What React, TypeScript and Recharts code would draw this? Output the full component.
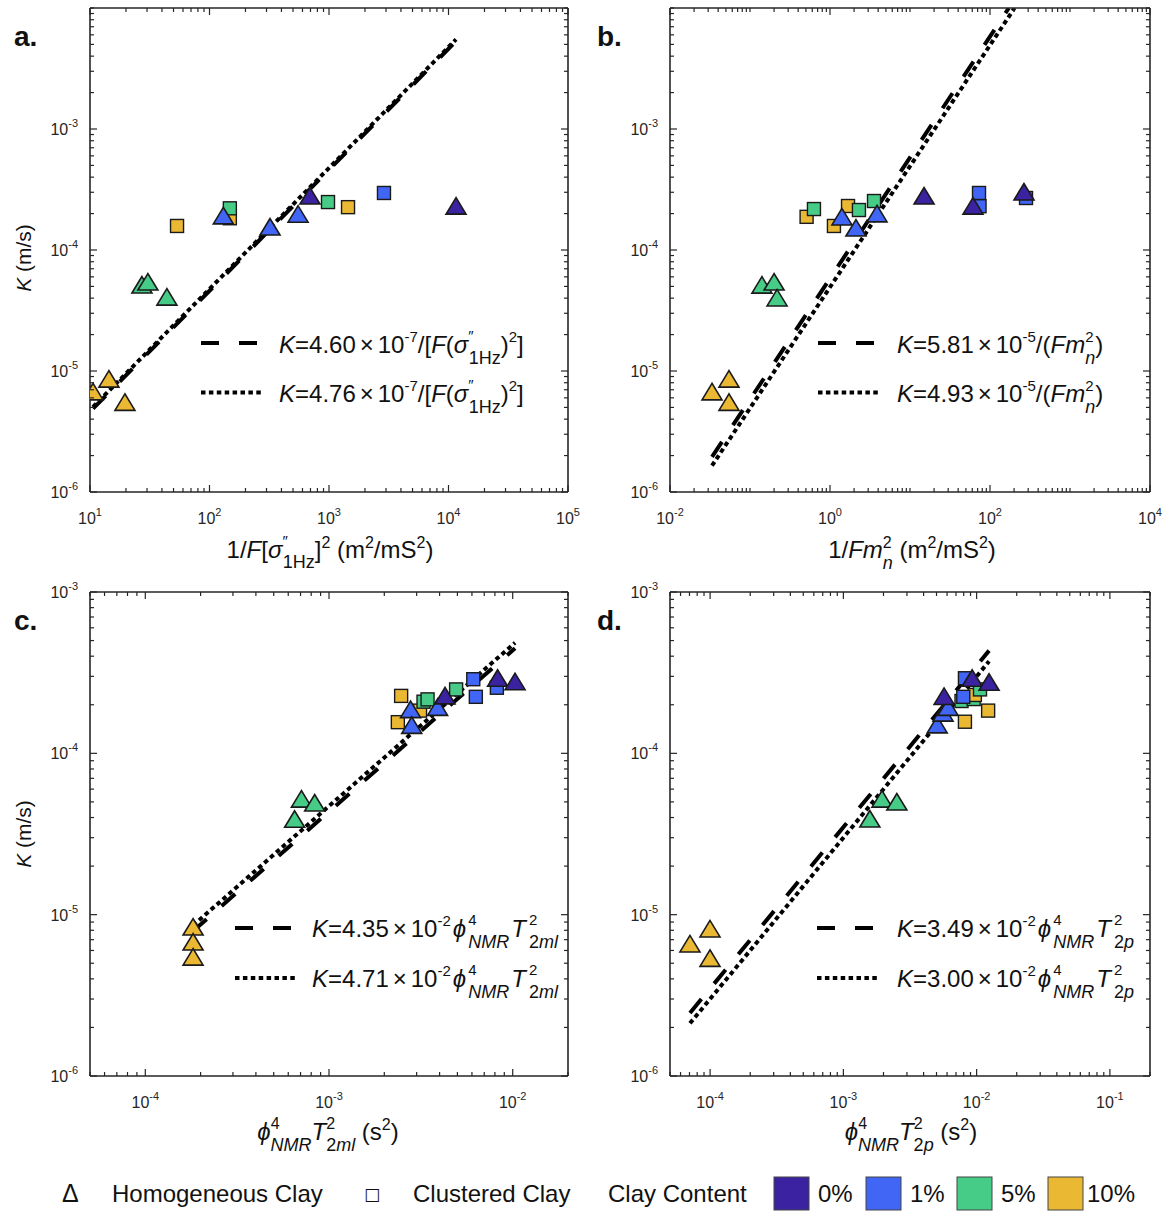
import React from 'react';
import { ComposedChart, Scatter, Line, XAxis, YAxis } from 'recharts';

const FONT = '"Liberation Sans", Arial, Helvetica, sans-serif';
const AXIS = '#262626';

const CLAY_COLORS: Record<number, string> = {
  0: '#3a22a0',
  1: '#4165f5',
  5: '#47cc88',
  10: '#eab833',
};

// ---------- Panel a : 1/F[sigma''_1Hz]^2 ----------
const pointsA = [
  { x: 10.6, k: 6.6e-6, clay: 10, type: 'H' },
  { x: 14.4, k: 8.4e-6, clay: 10, type: 'H' },
  { x: 19.6, k: 5.4e-6, clay: 10, type: 'H' },
  { x: 27.2, k: 5.04e-5, clay: 5, type: 'H' },
  { x: 30.5, k: 5.33e-5, clay: 5, type: 'H' },
  { x: 44, k: 4.0e-5, clay: 5, type: 'H' },
  { x: 53.5, k: 1.58e-4, clay: 10, type: 'C' },
  { x: 148, k: 1.83e-4, clay: 10, type: 'C' },
  { x: 148, k: 2.21e-4, clay: 5, type: 'C' },
  { x: 130.6, k: 1.88e-4, clay: 1, type: 'H' },
  { x: 321, k: 1.52e-4, clay: 1, type: 'H' },
  { x: 551, k: 1.94e-4, clay: 1, type: 'H' },
  { x: 693, k: 2.74e-4, clay: 0, type: 'H' },
  { x: 981, k: 2.49e-4, clay: 5, type: 'C' },
  { x: 1443, k: 2.26e-4, clay: 10, type: 'C' },
  { x: 2884, k: 2.96e-4, clay: 1, type: 'C' },
  { x: 11560, k: 2.26e-4, clay: 0, type: 'H' },
];
const fitDashedA = [
  { x: 10.6, k: 4.88e-6 },
  { x: 11560, k: 5.32e-3 },
];
const fitDottedA = [
  { x: 10.6, k: 5.05e-6 },
  { x: 11560, k: 5.5e-3 },
];
const xDomainA: [number, number] = [1e1, 1e5];
const xMajorsA = [1e1, 1e2, 1e3, 1e4, 1e5];

// ---------- Panel b : 1/Fm_n^2 ----------
const pointsB = [
  { x: 0.0335, k: 6.6e-6, clay: 10, type: 'H' },
  { x: 0.0546, k: 8.4e-6, clay: 10, type: 'H' },
  { x: 0.0546, k: 5.4e-6, clay: 10, type: 'H' },
  { x: 0.141, k: 5.03e-5, clay: 5, type: 'H' },
  { x: 0.2, k: 5.33e-5, clay: 5, type: 'H' },
  { x: 0.218, k: 3.94e-5, clay: 5, type: 'H' },
  { x: 0.51, k: 1.88e-4, clay: 10, type: 'C' },
  { x: 0.63, k: 2.18e-4, clay: 5, type: 'C' },
  { x: 1.12, k: 1.58e-4, clay: 10, type: 'C' },
  { x: 1.68, k: 2.31e-4, clay: 10, type: 'C' },
  { x: 2.3, k: 2.14e-4, clay: 5, type: 'C' },
  { x: 3.55, k: 2.54e-4, clay: 5, type: 'C' },
  { x: 1.41, k: 1.84e-4, clay: 1, type: 'H' },
  { x: 2.11, k: 1.49e-4, clay: 1, type: 'H' },
  { x: 3.87, k: 1.95e-4, clay: 1, type: 'H' },
  { x: 15, k: 2.74e-4, clay: 0, type: 'H' },
  { x: 72.9, k: 2.96e-4, clay: 1, type: 'C' },
  { x: 74, k: 2.3e-4, clay: 1, type: 'C' },
  { x: 61.3, k: 2.26e-4, clay: 0, type: 'H' },
  { x: 282, k: 2.69e-4, clay: 1, type: 'C' },
  { x: 266, k: 2.96e-4, clay: 0, type: 'H' },
];
const fitDashedB = [
  { x: 0.0335, k: 1.95e-6 },
  { x: 172.1, k: 1.0e-2 },
];
const fitDottedB = [
  { x: 0.0335, k: 1.65e-6 },
  { x: 202.8, k: 1.0e-2 },
];
const xDomainB: [number, number] = [1e-2, 1e4];
const xMajorsB = [1e-2, 1e0, 1e2, 1e4];

const yDomainAB: [number, number] = [1e-6, 1e-2];
const yMajorsAB = [1e-6, 1e-5, 1e-4, 1e-3];

// ---------- Panel c : phi^4 T2ml^2 ----------
const pointsC = [
  { x: 1.82e-4, k: 8.26e-6, clay: 10, type: 'H' },
  { x: 1.82e-4, k: 6.67e-6, clay: 10, type: 'H' },
  { x: 1.82e-4, k: 5.38e-6, clay: 10, type: 'H' },
  { x: 7.08e-4, k: 5.13e-5, clay: 5, type: 'H' },
  { x: 8.36e-4, k: 4.85e-5, clay: 5, type: 'H' },
  { x: 6.5e-4, k: 3.85e-5, clay: 5, type: 'H' },
  { x: 2.47e-3, k: 2.27e-4, clay: 10, type: 'C' },
  { x: 2.37e-3, k: 1.56e-4, clay: 10, type: 'C' },
  { x: 3.13e-3, k: 1.84e-4, clay: 10, type: 'C' },
  { x: 3.27e-3, k: 2.09e-4, clay: 5, type: 'C' },
  { x: 3.44e-3, k: 2.16e-4, clay: 5, type: 'C' },
  { x: 4.92e-3, k: 2.49e-4, clay: 5, type: 'C' },
  { x: 2.78e-3, k: 1.84e-4, clay: 1, type: 'H' },
  { x: 2.82e-3, k: 1.47e-4, clay: 1, type: 'H' },
  { x: 3.9e-3, k: 1.9e-4, clay: 1, type: 'H' },
  { x: 6.1e-3, k: 2.88e-4, clay: 1, type: 'C' },
  { x: 6.3e-3, k: 2.24e-4, clay: 1, type: 'C' },
  { x: 8.2e-3, k: 2.55e-4, clay: 1, type: 'C' },
  { x: 4.28e-3, k: 2.24e-4, clay: 0, type: 'H' },
  { x: 8.28e-3, k: 2.88e-4, clay: 0, type: 'H' },
  { x: 1.03e-2, k: 2.74e-4, clay: 0, type: 'H' },
];
const fitDashedC = [
  { x: 1.82e-4, k: 7.92e-6 },
  { x: 1.03e-2, k: 4.48e-4 },
];
const fitDottedC = [
  { x: 1.82e-4, k: 8.57e-6 },
  { x: 1.03e-2, k: 4.85e-4 },
];
const xDomainC: [number, number] = [5e-5, 2e-2];
const xMajorsC = [1e-4, 1e-3, 1e-2];

// ---------- Panel d : phi^4 T2p^2 ----------
const pointsD = [
  { x: 7.06e-5, k: 6.49e-6, clay: 10, type: 'H' },
  { x: 9.98e-5, k: 8.04e-6, clay: 10, type: 'H' },
  { x: 9.98e-5, k: 5.28e-6, clay: 10, type: 'H' },
  { x: 1.58e-3, k: 3.86e-5, clay: 5, type: 'H' },
  { x: 1.95e-3, k: 5.13e-5, clay: 5, type: 'H' },
  { x: 2.52e-3, k: 4.92e-5, clay: 5, type: 'H' },
  { x: 8.17e-3, k: 1.57e-4, clay: 10, type: 'C' },
  { x: 1.22e-2, k: 1.84e-4, clay: 10, type: 'C' },
  { x: 7.7e-3, k: 2.11e-4, clay: 5, type: 'C' },
  { x: 9.5e-3, k: 2.17e-4, clay: 5, type: 'C' },
  { x: 9.7e-3, k: 2.3e-4, clay: 10, type: 'C' },
  { x: 1.06e-2, k: 2.49e-4, clay: 5, type: 'C' },
  { x: 7.94e-3, k: 2.24e-4, clay: 1, type: 'C' },
  { x: 8.17e-3, k: 2.92e-4, clay: 1, type: 'C' },
  { x: 5.06e-3, k: 1.48e-4, clay: 1, type: 'H' },
  { x: 5.6e-3, k: 1.75e-4, clay: 1, type: 'H' },
  { x: 6.1e-3, k: 1.9e-4, clay: 1, type: 'H' },
  { x: 5.7e-3, k: 2.22e-4, clay: 0, type: 'H' },
  { x: 9.26e-3, k: 2.88e-4, clay: 0, type: 'H' },
  { x: 1.24e-2, k: 2.72e-4, clay: 0, type: 'H' },
];
const fitDashedD = [
  { x: 7.06e-5, k: 2.46e-6 },
  { x: 1.24e-2, k: 4.33e-4 },
];
const fitDottedD = [
  { x: 7.06e-5, k: 2.12e-6 },
  { x: 1.24e-2, k: 3.72e-4 },
];
const xDomainD: [number, number] = [5e-5, 2e-1];
const xMajorsD = [1e-4, 1e-3, 1e-2, 1e-1];

const yDomainCD: [number, number] = [1e-6, 1e-3];
const yMajorsCD = [1e-6, 1e-5, 1e-4, 1e-3];

// ---------- helpers ----------
function buildLogTicks(lo: number, hi: number): number[] {
  const out: number[] = [];
  for (let n = Math.floor(Math.log10(lo)); n <= Math.ceil(Math.log10(hi)); n++) {
    for (let m = 1; m <= 9; m++) {
      const v = m * Math.pow(10, n);
      if (v >= lo * (1 - 1e-9) && v <= hi * (1 + 1e-9)) out.push(v);
    }
  }
  return out;
}

function isMajor(v: number, majors: number[]) {
  return majors.some((m) => Math.abs(m - v) / m < 1e-6);
}

function makeTick(side: string, majors: number[], showLabel: boolean) {
  return (props: any) => {
    const { x, y, payload } = props;
    const v = payload.value;
    const major = isMajor(v, majors);
    const len = major ? 7 : 4;
    let line: any = null;
    if (side === 'bottom') line = <line x1={x} y1={y} x2={x} y2={y - len} stroke={AXIS} strokeWidth={1.2} />;
    if (side === 'top') line = <line x1={x} y1={y} x2={x} y2={y + len} stroke={AXIS} strokeWidth={1.2} />;
    if (side === 'left') line = <line x1={x} y1={y} x2={x + len} y2={y} stroke={AXIS} strokeWidth={1.2} />;
    if (side === 'right') line = <line x1={x} y1={y} x2={x - len} y2={y} stroke={AXIS} strokeWidth={1.2} />;
    let label: any = null;
    if (showLabel && major) {
      const e = Math.round(Math.log10(v));
      if (side === 'bottom') {
        label = (
          <text x={x} y={y + 32} textAnchor="middle" fontSize={16} fill={AXIS} fontFamily={FONT}>
            10<tspan dy={-8} fontSize={11}>{String(e)}</tspan>
          </text>
        );
      } else if (side === 'left') {
        label = (
          <text x={x - 12} y={y + 6} textAnchor="end" fontSize={16} fill={AXIS} fontFamily={FONT}>
            10<tspan dy={-8} fontSize={11}>{String(e)}</tspan>
          </text>
        );
      }
    }
    return (
      <g>
        {line}
        {label}
      </g>
    );
  };
}

const renderMarker = (props: any) => {
  const { cx, cy, payload } = props;
  if (cx == null || cy == null || !payload) return <g />;
  const fill = CLAY_COLORS[payload.clay];
  if (payload.type === 'H') {
    return (
      <polygon
        points={`${cx},${cy - 9.5} ${cx - 10},${cy + 7} ${cx + 10},${cy + 7}`}
        fill={fill}
        stroke="#1a1a1a"
        strokeWidth={1.6}
      />
    );
  }
  return <rect x={cx - 6.5} y={cy - 6.5} width={13} height={13} fill={fill} stroke="#1a1a1a" strokeWidth={1.4} />;
};

type PanelProps = {
  points: any[];
  fitDashed: any[];
  fitDotted: any[];
  xDomain: [number, number];
  xMajors: number[];
  yDomain: [number, number];
  yMajors: number[];
  marginRight: number;
  marginTop: number;
  height: number;
};

function Panel({ points, fitDashed, fitDotted, xDomain, xMajors, yDomain, yMajors, marginRight, marginTop, height }: PanelProps) {
  const xTicks = buildLogTicks(xDomain[0], xDomain[1]);
  const yTicks = buildLogTicks(yDomain[0], yDomain[1]);
  const axisLine = { stroke: AXIS, strokeWidth: 1.6 };
  return (
    <ComposedChart width={600} height={height} margin={{ top: marginTop, right: marginRight, bottom: 53, left: 30 }}>
      <XAxis
        xAxisId="b"
        orientation="bottom"
        dataKey="x"
        type="number"
        scale="log"
        domain={xDomain}
        allowDataOverflow
        ticks={xTicks}
        interval={0}
        height={40}
        tickSize={0}
        tickMargin={0}
        tickLine={false}
        axisLine={axisLine}
        tick={makeTick('bottom', xMajors, true)}
      />
      <XAxis
        xAxisId="t"
        orientation="top"
        dataKey="x"
        type="number"
        scale="log"
        domain={xDomain}
        allowDataOverflow
        ticks={xTicks}
        interval={0}
        height={2}
        tickSize={0}
        tickMargin={0}
        tickLine={false}
        axisLine={axisLine}
        tick={makeTick('top', xMajors, false)}
      />
      <YAxis
        yAxisId="l"
        orientation="left"
        dataKey="k"
        type="number"
        scale="log"
        domain={yDomain}
        allowDataOverflow
        ticks={yTicks}
        interval={0}
        width={60}
        tickSize={0}
        tickMargin={0}
        tickLine={false}
        axisLine={axisLine}
        tick={makeTick('left', yMajors, true)}
      />
      <YAxis
        yAxisId="r"
        orientation="right"
        dataKey="k"
        type="number"
        scale="log"
        domain={yDomain}
        allowDataOverflow
        ticks={yTicks}
        interval={0}
        width={2}
        tickSize={0}
        tickMargin={0}
        tickLine={false}
        axisLine={axisLine}
        tick={makeTick('right', yMajors, false)}
      />
      <Scatter xAxisId="b" yAxisId="l" data={points} dataKey="k" shape={renderMarker} isAnimationActive={false} />
      <Line
        xAxisId="b"
        yAxisId="l"
        data={fitDashed}
        dataKey="k"
        stroke="#000"
        strokeWidth={4}
        strokeDasharray="18 20"
        dot={false}
        activeDot={false}
        isAnimationActive={false}
      />
      <Line
        xAxisId="b"
        yAxisId="l"
        data={fitDotted}
        dataKey="k"
        stroke="#000"
        strokeWidth={4}
        strokeDasharray="4.5 3.4"
        dot={false}
        activeDot={false}
        isAnimationActive={false}
      />
    </ComposedChart>
  );
}

const SUP = 15;
const SUB = 18;

function LegendSamples({ x, y1, y2 }: { x: number; y1: number; y2: number }) {
  return (
    <g>
      <line x1={x} y1={y1} x2={x + 56} y2={y1} stroke="#000" strokeWidth={4} strokeDasharray="18 20" />
      <line x1={x} y1={y2} x2={x + 60} y2={y2} stroke="#000" strokeWidth={4} strokeDasharray="4.5 3.4" />
    </g>
  );
}

function Overlay() {
  const it = { fontStyle: 'italic' as const };
  return (
    <svg
      width={1174}
      height={1213}
      style={{ position: 'absolute', left: 0, top: 0, pointerEvents: 'none' }}
      fontFamily={FONT}
      fill="#111"
    >
      {/* panel letters */}
      <text x={14} y={46} fontSize={28} fontWeight="bold">a.</text>
      <text x={597} y={46} fontSize={28} fontWeight="bold">b.</text>
      <text x={14} y={630} fontSize={28} fontWeight="bold">c.</text>
      <text x={597} y={630} fontSize={28} fontWeight="bold">d.</text>

      {/* y labels */}
      <text transform="translate(31,258) rotate(-90)" textAnchor="middle" fontSize={21}>
        <tspan {...it}>K</tspan> (m/s)
      </text>
      <text transform="translate(31,834) rotate(-90)" textAnchor="middle" fontSize={21}>
        <tspan {...it}>K</tspan> (m/s)
      </text>

      {/* x labels */}
      <text x={330} y={558} textAnchor="middle" fontSize={24}>
        {'1/'}<tspan {...it}>F</tspan>{'['}<tspan {...it}>σ</tspan>
        <tspan dy={-12} fontSize={15}>″</tspan>
        <tspan dx={-5} dy={22} fontSize={18}>1Hz</tspan>
        <tspan dy={-10}>]</tspan>
        <tspan dy={-10} fontSize={16}>2</tspan>
        <tspan dy={10}>{' (m'}</tspan>
        <tspan dy={-10} fontSize={16}>2</tspan>
        <tspan dy={10}>/mS</tspan>
        <tspan dy={-10} fontSize={16}>2</tspan>
        <tspan dy={10}>)</tspan>
      </text>
      <text x={912} y={558} textAnchor="middle" fontSize={24}>
        {'1/'}<tspan {...it}>Fm</tspan>
        <tspan dy={-10} fontSize={16}>2</tspan>
        <tspan dx={-9} dy={21} fontSize={18} {...it}>n</tspan>
        <tspan dy={-11}>{' (m'}</tspan>
        <tspan dy={-10} fontSize={16}>2</tspan>
        <tspan dy={10}>/mS</tspan>
        <tspan dy={-10} fontSize={16}>2</tspan>
        <tspan dy={10}>)</tspan>
      </text>
      <text x={328} y={1140} textAnchor="middle" fontSize={24}>
        <tspan {...it}>ϕ</tspan>
        <tspan dy={-11} fontSize={16}>4</tspan>
        <tspan dx={-9} dy={22} fontSize={18} {...it}>NMR</tspan>
        <tspan dy={-11} {...it}>T</tspan>
        <tspan dy={-11} fontSize={16}>2</tspan>
        <tspan dx={-9} dy={22} fontSize={18}>2<tspan {...it}>ml</tspan></tspan>
        <tspan dy={-11}>{' (s'}</tspan>
        <tspan dy={-10} fontSize={16}>2</tspan>
        <tspan dy={10}>)</tspan>
      </text>
      <text x={911} y={1140} textAnchor="middle" fontSize={24}>
        <tspan {...it}>ϕ</tspan>
        <tspan dy={-11} fontSize={16}>4</tspan>
        <tspan dx={-9} dy={22} fontSize={18} {...it}>NMR</tspan>
        <tspan dy={-11} {...it}>T</tspan>
        <tspan dy={-11} fontSize={16}>2</tspan>
        <tspan dx={-9} dy={22} fontSize={18}>2<tspan {...it}>p</tspan></tspan>
        <tspan dy={-11}>{' (s'}</tspan>
        <tspan dy={-10} fontSize={16}>2</tspan>
        <tspan dy={10}>)</tspan>
      </text>

      {/* panel a legend */}
      <LegendSamples x={201} y1={343} y2={392.5} />
      {[
        { y: 352.5, c: '4.60' },
        { y: 402, c: '4.76' },
      ].map((r) => (
        <text key={r.c} x={279} y={r.y} fontSize={24}>
          <tspan {...it}>K</tspan>
          {'=' + r.c}
          <tspan dx={4}>×</tspan>
          <tspan dx={4}>10</tspan>
          <tspan dy={-11} fontSize={SUP}>-7</tspan>
          <tspan dy={11}>/[</tspan>
          <tspan {...it}>F</tspan>
          {'('}
          <tspan {...it}>σ</tspan>
          <tspan dy={-12} fontSize={SUP}>″</tspan>
          <tspan dx={-5} dy={23} fontSize={SUB}>1Hz</tspan>
          <tspan dy={-11}>)</tspan>
          <tspan dy={-11} fontSize={SUP}>2</tspan>
          <tspan dy={11}>]</tspan>
        </text>
      ))}

      {/* panel b legend */}
      <LegendSamples x={818} y1={343} y2={392.5} />
      {[
        { y: 352.5, c: '5.81' },
        { y: 402, c: '4.93' },
      ].map((r) => (
        <text key={r.c} x={897} y={r.y} fontSize={24}>
          <tspan {...it}>K</tspan>
          {'=' + r.c}
          <tspan dx={4}>×</tspan>
          <tspan dx={4}>10</tspan>
          <tspan dy={-11} fontSize={SUP}>-5</tspan>
          <tspan dy={11}>/(</tspan>
          <tspan {...it}>Fm</tspan>
          <tspan dy={-11} fontSize={SUP}>2</tspan>
          <tspan dx={-8.3} dy={22} fontSize={SUB} {...it}>n</tspan>
          <tspan dy={-11}>)</tspan>
        </text>
      ))}

      {/* panel c legend */}
      <LegendSamples x={235} y1={928} y2={978} />
      {[
        { y: 937, c: '4.35' },
        { y: 987, c: '4.71' },
      ].map((r) => (
        <text key={r.c} x={312} y={r.y} fontSize={24}>
          <tspan {...it}>K</tspan>
          {'=' + r.c}
          <tspan dx={4}>×</tspan>
          <tspan dx={4}>10</tspan>
          <tspan dy={-11} fontSize={SUP}>-2</tspan>
          <tspan dx={2} dy={11} {...it}>ϕ</tspan>
          <tspan dx={2} dy={-12} fontSize={SUP}>4</tspan>
          <tspan dx={-8.3} dy={23} fontSize={SUB} {...it}>NMR</tspan>
          <tspan dx={2} dy={-11} {...it}>T</tspan>
          <tspan dx={3} dy={-12} fontSize={SUP}>2</tspan>
          <tspan dx={-8.3} dy={23} fontSize={SUB}>2<tspan {...it}>ml</tspan></tspan>
        </text>
      ))}

      {/* panel d legend */}
      <LegendSamples x={817} y1={928} y2={978} />
      {[
        { y: 937, c: '3.49' },
        { y: 987, c: '3.00' },
      ].map((r) => (
        <text key={r.c} x={897} y={r.y} fontSize={24}>
          <tspan {...it}>K</tspan>
          {'=' + r.c}
          <tspan dx={4}>×</tspan>
          <tspan dx={4}>10</tspan>
          <tspan dy={-11} fontSize={SUP}>-2</tspan>
          <tspan dx={2} dy={11} {...it}>ϕ</tspan>
          <tspan dx={2} dy={-12} fontSize={SUP}>4</tspan>
          <tspan dx={-8.3} dy={23} fontSize={SUB} {...it}>NMR</tspan>
          <tspan dx={2} dy={-11} {...it}>T</tspan>
          <tspan dx={3} dy={-12} fontSize={SUP}>2</tspan>
          <tspan dx={-8.3} dy={23} fontSize={SUB}>2<tspan {...it}>p</tspan></tspan>
        </text>
      ))}

      {/* bottom legend */}
      <text x={62} y={1202} fontSize={25}>Δ</text>
      <text x={112} y={1202} fontSize={24}>Homogeneous Clay</text>
      <text x={364} y={1200} fontSize={17} fontFamily="DejaVu Sans">□</text>
      <text x={413} y={1202} fontSize={24}>Clustered Clay</text>
      <text x={608} y={1202} fontSize={24}>Clay Content</text>
      {[
        { c: 0, bx: 774, tx: 818 },
        { c: 1, bx: 866, tx: 910 },
        { c: 5, bx: 957, tx: 1001 },
        { c: 10, bx: 1048, tx: 1087 },
      ].map((r) => (
        <g key={r.c}>
          <rect x={r.bx} y={1177} width={35} height={33} fill={CLAY_COLORS[r.c]} stroke="#444" strokeWidth={1} />
          <text x={r.tx} y={1202} fontSize={24}>{r.c + '%'}</text>
        </g>
      ))}
    </svg>
  );
}

export default function App() {
  return (
    <div
      style={{
        position: 'absolute',
        left: 0,
        top: 0,
        width: 1174,
        height: 1213,
        overflow: 'hidden',
        background: '#fff',
        fontFamily: FONT,
      }}
    >
      <div style={{ position: 'absolute', left: 0, top: 0 }}>
        <Panel
          points={pointsA}
          fitDashed={fitDashedA}
          fitDotted={fitDottedA}
          xDomain={xDomainA}
          xMajors={xMajorsA}
          yDomain={yDomainAB}
          yMajors={yMajorsAB}
          marginRight={30}
          marginTop={6}
          height={585}
        />
      </div>
      <div style={{ position: 'absolute', left: 580, top: 0 }}>
        <Panel
          points={pointsB}
          fitDashed={fitDashedB}
          fitDotted={fitDottedB}
          xDomain={xDomainB}
          xMajors={xMajorsB}
          yDomain={yDomainAB}
          yMajors={yMajorsAB}
          marginRight={28}
          marginTop={6}
          height={585}
        />
      </div>
      <div style={{ position: 'absolute', left: 0, top: 560 }}>
        <Panel
          points={pointsC}
          fitDashed={fitDashedC}
          fitDotted={fitDottedC}
          xDomain={xDomainC}
          xMajors={xMajorsC}
          yDomain={yDomainCD}
          yMajors={yMajorsCD}
          marginRight={30}
          marginTop={30}
          height={609}
        />
      </div>
      <div style={{ position: 'absolute', left: 580, top: 560 }}>
        <Panel
          points={pointsD}
          fitDashed={fitDashedD}
          fitDotted={fitDottedD}
          xDomain={xDomainD}
          xMajors={xMajorsD}
          yDomain={yDomainCD}
          yMajors={yMajorsCD}
          marginRight={28}
          marginTop={30}
          height={609}
        />
      </div>
      <Overlay />
    </div>
  );
}
